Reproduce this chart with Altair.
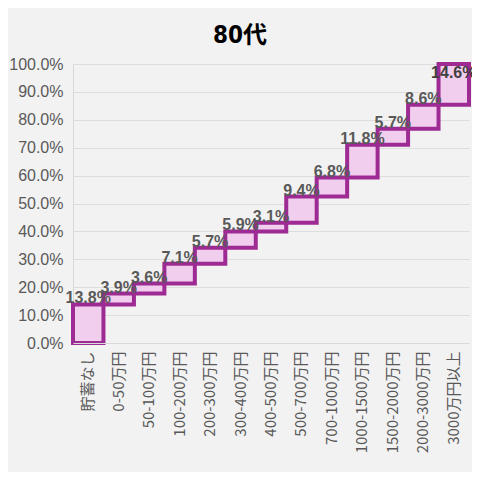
import altair as alt
import pandas as pd

categories = ["貯蓄なし", "0-50万円", "50-100万円", "100-200万円", "200-300万円",
              "300-400万円", "400-500万円", "500-700万円", "700-1000万円",
              "1000-1500万円", "1500-2000万円", "2000-3000万円", "3000万円以上"]
shares = [13.8, 3.9, 3.6, 7.1, 5.7, 5.9, 3.1, 9.4, 6.8, 11.8, 5.7, 8.6, 14.6]
y_ticks = [0.0, 0.1, 0.2, 0.3, 0.4, 0.5, 0.6, 0.7, 0.8, 0.9, 1.0]

rows = []
cum = 0.0
for c, v in zip(categories, shares):
    start = cum
    cum = round(cum + v, 1)
    rows.append({"cat": c, "start": start / 100, "end": cum / 100, "label": f"{v:.1f}%"})
df = pd.DataFrame(rows)

x = alt.X("cat:N", sort=categories, title=None,
          scale=alt.Scale(paddingInner=0, paddingOuter=0),
          axis=alt.Axis(labelAngle=270, labelFontSize=15, labelColor="#595959",
                        labelFont="Noto Sans CJK JP", labelPadding=8, ticks=False,
                        domainColor="#D9D9D9", labelLimit=200))

y_axis = alt.Axis(format=".1%", values=y_ticks, labelOverlap=False, tickCount=20,
                  labelFontSize=16, labelColor="#595959", labelPadding=10,
                  ticks=False, domainColor="#D9D9D9", gridColor="#DDDDDD")
y_end = alt.Y("end:Q", title=None, scale=alt.Scale(domain=[0, 1]), axis=y_axis)

boxes = alt.Chart(df).mark_rect(fill="#F2CEEE", stroke="#9E2A93", strokeWidth=4).encode(
    x=x,
    y=alt.Y("start:Q", title=None, scale=alt.Scale(domain=[0, 1]), axis=y_axis),
    y2="end:Q",
)

labels = alt.Chart(df).transform_filter("datum.end < 0.999").mark_text(
    fontSize=16, fontWeight="bold", color="#595959",
    baseline="bottom", dy=2, font="Liberation Sans").encode(
    x=x, y=y_end, text="label:N",
)

top_label = alt.Chart(df).transform_filter("datum.end >= 0.999").mark_text(
    fontSize=16, fontWeight="bold", color="#404040",
    baseline="top", dy=1, font="Liberation Sans").encode(
    x=x, y=y_end, text="label:N",
)

chart = (boxes + labels + top_label).properties(
    width=396, height=279,
    background="#F2F2F2",
    autosize=alt.AutoSizeParams(type="none"),
    padding={"left": 65, "top": 56, "right": 3, "bottom": 129},
    title=alt.Title("80代", fontSize=24, fontWeight="bold", color="#000000",
                    font="DejaVu Sans Condensed, Noto Sans CJK JP, sans-serif",
                    anchor="middle", dx=-31, offset=8),
).configure_view(stroke=None)

chart.save("out.html", embed_options={"renderer": "svg", "actions": False})
